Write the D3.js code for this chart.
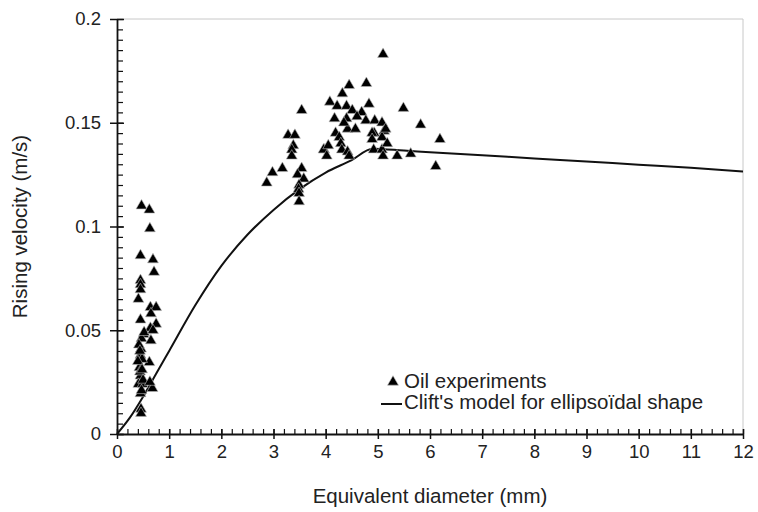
<!DOCTYPE html>
<html><head><meta charset="utf-8">
<script src="https://cdn.jsdelivr.net/npm/d3@7"></script>
<style>
html,body{margin:0;padding:0;background:#fff;}
text{font-family:"Liberation Sans",Arial,sans-serif;fill:#222;}
</style></head>
<body><svg id="c" width="758" height="512"></svg>
<script>
// Oil experiments: equivalent diameter (mm) and rising velocity (m/s)
const oilD = [0.47,0.62,0.63,0.45,0.69,0.71,0.45,0.45,0.45,0.41,0.64,0.75,0.65,0.75,0.64,0.51,0.47,0.65,0.46,0.45,0.62,0.43,0.45,0.41,0.49,0.68,0.45,0.46,0.46,
  0.42,0.48,0.44,0.50,0.40,0.47,0.63,0.52,0.69,0.45,0.44,0.48,
  3.54,3.28,3.41,3.38,3.35,3.35,3.17,2.98,2.87,3.54,3.46,3.58,3.49,3.48,3.49,3.49,
  3.97,5.10,4.45,4.78,4.32,4.08,4.22,4.40,4.83,4.51,4.69,4.17,4.40,4.77,4.94,4.42,4.57,4.19,4.26,4.93,4.29,3.96,4.02,4.31,4.42,4.45,4.92,5.08,
  5.49,5.82,6.19,5.08,5.12,5.08,5.18,5.10,5.37,5.63,6.11,5.15,4.89,4.89,4.60,4.35,4.05];
const oilV = [0.110,0.108,0.099,0.086,0.084,0.078,0.074,0.072,0.0696,0.065,0.061,0.061,0.058,0.053,0.051,0.048,0.046,0.045,0.041,0.038,0.0345,0.032,0.028,0.024,0.024,0.022,0.0195,0.012,0.010,
  0.043,0.036,0.030,0.026,0.035,0.021,0.025,0.049,0.050,0.055,0.040,0.031,
  0.156,0.144,0.144,0.139,0.137,0.134,0.128,0.126,0.121,0.128,0.125,0.123,0.120,0.118,0.116,0.112,
  0.137,0.183,0.168,0.169,0.164,0.160,0.158,0.158,0.159,0.156,0.155,0.152,0.152,0.151,0.151,0.147,0.147,0.145,0.143,0.145,0.140,0.137,0.134,0.137,0.136,0.134,0.137,0.137,
  0.157,0.149,0.142,0.150,0.146,0.143,0.140,0.134,0.134,0.135,0.129,0.147,0.145,0.142,0.153,0.150,0.139];
// Clift's model for ellipsoidal shape
const modelD = [0,0.25,0.5,0.75,1,1.5,2,2.5,3,3.5,4,4.5,4.9,5.5,6,7,8,9,10,11,12];
const modelV = [0,0.008,0.018,0.029,0.040,0.062,0.081,0.096,0.108,0.118,0.126,0.132,0.1375,0.1366,0.1358,0.1343,0.1328,0.1313,0.1298,0.1283,0.1265];
const xTicks = [0,1,2,3,4,5,6,7,8,9,10,11,12];
const yTicks = [0,0.05,0.1,0.15,0.2];
const yTickLabels = ["0","0.05","0.1","0.15","0.2"];
const legendLabels = ["Oil experiments","Clift's model for ellipsoïdal shape"];
const xTitle = "Equivalent diameter (mm)";
const yTitle = "Rising velocity (m/s)";

const svg = d3.select("#c");
const L=117, R=743, T=19, B=434;
const x = d3.scaleLinear().domain([0,12]).range([L,R]);
const y = d3.scaleLinear().domain([0,0.2]).range([B,T]);

// light plot border top/right
svg.append("path").attr("d",`M${L},${T}H${R}V${B}`).attr("fill","none").attr("stroke","#c8c8c8").attr("stroke-width",1);

// model line
svg.append("path").datum(modelD.map((d,i)=>[d,modelV[i]]))
  .attr("fill","none").attr("stroke","#111").attr("stroke-width",2)
  .attr("d", d3.line().curve(d3.curveMonotoneX).x(d=>x(d[0])).y(d=>y(d[1])));

// points
const tri = d3.symbol().type(d3.symbolTriangle).size(52);
svg.append("g").selectAll("path").data(oilD.map((d,i)=>[d,oilV[i]])).join("path")
  .attr("d",tri).attr("transform",d=>`translate(${x(d[0])},${y(d[1])})`)
  .attr("fill","#000").attr("stroke","#bbb").attr("stroke-width",0.6);

// axes
const minorX = d3.range(0,12.0001,0.2);
const minorY = d3.range(0,0.2001,0.005);
const gx = svg.append("g").attr("transform",`translate(0,${B})`);
gx.append("g").call(d3.axisBottom(x).tickValues(minorX).tickSize(-5).tickFormat(""))
  .call(g=>g.select(".domain").remove()).selectAll("line").attr("stroke","#111").attr("stroke-width",1.2);
gx.append("g").call(d3.axisBottom(x).tickValues(xTicks).tickSize(5).tickSizeOuter(0).tickPadding(6).tickFormat(d3.format("d")))
  .call(g=>{g.select(".domain").attr("stroke","#111").attr("stroke-width",1.8);
    g.selectAll("line").attr("stroke","#111").attr("stroke-width",1.5).attr("y1",-5);
    g.selectAll("text").attr("font-size","18.5px").attr("fill","#222");});

const gy = svg.append("g").attr("transform",`translate(${L},0)`);
gy.append("g").call(d3.axisLeft(y).tickValues(minorY).tickSize(-6).tickFormat(""))
  .call(g=>g.select(".domain").remove()).selectAll("line").attr("stroke","#111").attr("stroke-width",1.2);
gy.append("g").call(d3.axisLeft(y).tickValues(yTicks).tickSize(7).tickSizeOuter(0).tickPadding(9).tickFormat((d,i)=>yTickLabels[i]))
  .call(g=>{g.select(".domain").attr("stroke","#111").attr("stroke-width",1.8);
    g.selectAll("line").attr("stroke","#111").attr("stroke-width",1.5).attr("x1",7);
    g.selectAll("text").attr("font-size","18.5px").attr("fill","#222");});

// titles
svg.append("text").attr("x",(L+R)/2).attr("y",503).attr("text-anchor","middle").attr("font-size","20.5px").text(xTitle);
svg.append("text").attr("transform",`translate(27,${(T+B)/2}) rotate(-90)`).attr("text-anchor","middle").attr("font-size","20.5px").text(yTitle);

// legend
const lg = svg.append("g");
lg.append("path").attr("d",tri).attr("transform","translate(393,382)").attr("fill","#000").attr("stroke","#bbb").attr("stroke-width",0.6);
lg.append("text").attr("x",404).attr("y",383).attr("dominant-baseline","middle").attr("font-size","20.5px").text(legendLabels[0]);
lg.append("line").attr("x1",381).attr("x2",402).attr("y1",404).attr("y2",404).attr("stroke","#111").attr("stroke-width",2);
lg.append("text").attr("x",404).attr("y",404).attr("dominant-baseline","middle").attr("font-size","20.5px").text(legendLabels[1]);
</script></body></html>
